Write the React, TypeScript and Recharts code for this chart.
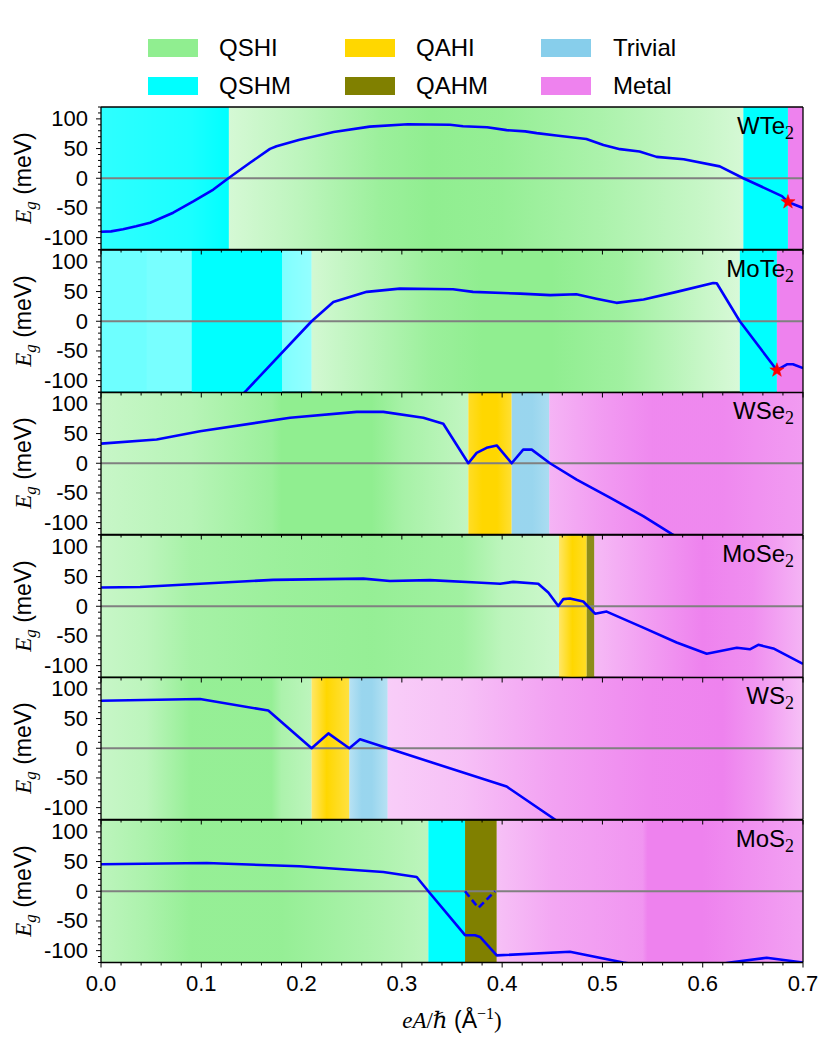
import React from 'react';
import { ComposedChart, Line, XAxis, YAxis, ReferenceArea, ReferenceLine, Scatter } from 'recharts';

// ---------- data ----------
const PHASE_COLORS: Record<string, string> = {
  QSHI: '#90EE90',
  QSHM: '#00FFFF',
  QAHI: '#FFD700',
  QAHM: '#808000',
  Trivial: '#87CEEB',
  Metal: '#EE82EE',
};
const LEGEND_COLUMNS = [
  ['QSHI', 'QSHM'],
  ['QAHI', 'QAHM'],
  ['Trivial', 'Metal'],
];

const X_MAJOR = [0, 0.1, 0.2, 0.3, 0.4, 0.5, 0.6, 0.7];
const X_TICKS = [
  0, 0.02, 0.04, 0.06, 0.08, 0.1, 0.12, 0.14, 0.16, 0.18, 0.2, 0.22, 0.24, 0.26, 0.28, 0.3,
  0.32, 0.34, 0.36, 0.38, 0.4, 0.42, 0.44, 0.46, 0.48, 0.5, 0.52, 0.54, 0.56, 0.58, 0.6,
  0.62, 0.64, 0.66, 0.68, 0.7,
];
const Y_MAJOR = [-100, -50, 0, 50, 100];
const Y_TICKS = [
  -120, -110, -100, -90, -80, -70, -60, -50, -40, -30, -20, -10, 0, 10, 20, 30, 40, 50, 60,
  70, 80, 90, 100, 110, 120,
];
const ZERO_LINE: [number, number][] = [[0, 0], [0.7, 0]];

// gap curves [eA/hbar, Eg (meV)]
const WTE2_GAP: [number, number][] = [
  [0, -90], [0.01, -89.5], [0.022, -86], [0.035, -81], [0.049, -75], [0.072, -58], [0.092, -39], [0.112, -19],
  [0.127, 0], [0.1486, 26], [0.1685, 49.5], [0.175, 54], [0.198, 65], [0.232, 78], [0.268, 87],
  [0.306, 91], [0.348, 90], [0.361, 87.5], [0.385, 86], [0.4045, 81], [0.423, 79],
  [0.4345, 76], [0.454, 72], [0.484, 66], [0.501, 56], [0.5175, 49], [0.537, 45],
  [0.554, 36], [0.581, 32], [0.617, 20], [0.6405, 0], [0.679, -30], [0.685, -40], [0.7, -50],
];
const MOTE2_GAP: [number, number][] = [
  [0.14, -125], [0.1453, -116], [0.21, 0], [0.2317, 32.5], [0.265, 49.5], [0.298, 55],
  [0.351, 54], [0.371, 49.5], [0.418, 46.5], [0.448, 44], [0.474, 45.5], [0.494, 38],
  [0.514, 31], [0.541, 36.5], [0.574, 49.5], [0.6105, 64.5], [0.614, 64], [0.637, 0],
  [0.674, -82.5], [0.684, -72.5], [0.69, -72.5], [0.7, -79],
];
const WSE2_GAP: [number, number][] = [
  [0, 33], [0.0555, 40], [0.0987, 54], [0.1885, 76.5], [0.255, 86.5], [0.2815, 86.5],
  [0.3214, 76.5], [0.3413, 66.5], [0.3663, 0], [0.3746, 17.5], [0.3845, 26], [0.3946, 30],
  [0.4095, 0], [0.421, 23], [0.4295, 23], [0.4477, 0], [0.4743, -27.5], [0.5075, -58],
  [0.5407, -89], [0.569, -119], [0.572, -122],
];
const MOSE2_GAP: [number, number][] = [
  [0, 31.5], [0.0389, 32.5], [0.122, 40], [0.1718, 44.5], [0.2615, 46.5], [0.288, 42.5],
  [0.328, 44], [0.3746, 40], [0.398, 38], [0.411, 41], [0.436, 38], [0.446, 23], [0.456, 0.5],
  [0.461, 12], [0.4676, 13], [0.4809, 8], [0.4926, -12.5], [0.5042, -9], [0.5407, -36],
  [0.574, -61], [0.604, -80], [0.634, -70], [0.647, -72.5], [0.6554, -65], [0.6704, -71],
  [0.7, -97],
];
const WS2_GAP: [number, number][] = [
  [0, 80], [0.0987, 83], [0.1668, 63.5], [0.21, 0], [0.2267, 25], [0.2476, 0], [0.2583, 15],
  [0.4045, -64.5], [0.4527, -120], [0.455, -123],
];
const MOS2_GAP: [number, number][] = [
  [0, 45.5], [0.1054, 47.5], [0.198, 42], [0.2815, 32.5], [0.3148, 24], [0.3264, 0],
  [0.363, -74], [0.373, -74], [0.378, -77], [0.3946, -108], [0.4676, -102], [0.5208, -120],
  [0.575, -135], [0.627, -120], [0.6638, -112], [0.7, -120],
];
const MOS2_DASHED: [number, number][] = [[0.363, 0], [0.3763, -28], [0.3929, 0]];

const WTE2_STAR: [number, number][] = [[0.685, -40]];
const MOTE2_STAR: [number, number][] = [[0.674, -82.5]];

// phase bands: [x1, x2, phase, shading stops [x, strength]]
type Band = [number, number, string, [number, number][]];
const WTE2_BANDS: Band[] = [
  [0, 0.1275, 'QSHM', [[0, 0.82], [0.09, 0.9], [0.1275, 1]]],
  [0.1275, 0.6405, 'QSHI', [[0.1275, 0.38], [0.2, 0.6], [0.28, 0.9], [0.33, 1], [0.4, 0.95], [0.5, 0.75], [0.6, 0.5], [0.6405, 0.38]]],
  [0.6405, 0.685, 'QSHM', [[0.6405, 1], [0.685, 1]]],
  [0.685, 0.7, 'Metal', [[0.685, 1], [0.7, 1]]],
];
const MOTE2_BANDS: Band[] = [
  [0, 0.21, 'QSHM', [[0, 0.57], [0.045, 0.57], [0.046, 0.53], [0.09, 0.53], [0.091, 1], [0.18, 1], [0.181, 0.5], [0.21, 0.42]]],
  [0.21, 0.637, 'QSHI', [[0.21, 0.4], [0.27, 0.65], [0.33, 0.9], [0.38, 1], [0.45, 1], [0.52, 0.85], [0.6, 0.5], [0.637, 0.35]]],
  [0.637, 0.674, 'QSHM', [[0.637, 1], [0.674, 1]]],
  [0.674, 0.7, 'Metal', [[0.674, 1], [0.7, 1]]],
];
const WSE2_BANDS: Band[] = [
  [0, 0.3663, 'QSHI', [[0, 0.5], [0.09, 0.65], [0.17, 0.9], [0.18, 1], [0.27, 1], [0.3, 0.8], [0.3663, 0.55]]],
  [0.3663, 0.4095, 'QAHI', [[0.3663, 0.85], [0.38, 1], [0.395, 1], [0.4095, 0.8]]],
  [0.4095, 0.447, 'Trivial', [[0.4095, 0.85], [0.43, 0.85], [0.447, 0.7]]],
  [0.447, 0.7, 'Metal', [[0.447, 0.6], [0.5, 0.8], [0.55, 0.95], [0.62, 0.95], [0.67, 0.85], [0.7, 0.8]]],
];
const MOSE2_BANDS: Band[] = [
  [0, 0.4567, 'QSHI', [[0, 0.5], [0.045, 0.6], [0.09, 0.8], [0.18, 0.9], [0.27, 0.95], [0.36, 0.85], [0.4, 0.6], [0.4567, 0.45]]],
  [0.4567, 0.4843, 'QAHI', [[0.4567, 0.6], [0.47, 1], [0.4843, 0.85]]],
  [0.4843, 0.4919, 'QAHM', [[0.4843, 0.9], [0.4919, 0.9]]],
  [0.4919, 0.7, 'Metal', [[0.4919, 0.55], [0.55, 0.8], [0.6, 1], [0.65, 0.9], [0.7, 0.6]]],
];
const WS2_BANDS: Band[] = [
  [0, 0.21, 'QSHI', [[0, 0.5], [0.045, 0.6], [0.09, 0.95], [0.17, 0.95], [0.18, 0.75], [0.21, 0.6]]],
  [0.21, 0.2476, 'QAHI', [[0.21, 0.6], [0.225, 1], [0.2476, 0.75]]],
  [0.2476, 0.2858, 'Trivial', [[0.2476, 0.6], [0.26, 0.85], [0.27, 0.85], [0.2858, 0.6]]],
  [0.2858, 0.7, 'Metal', [[0.2858, 0.4], [0.36, 0.5], [0.45, 0.75], [0.55, 0.95], [0.62, 1], [0.66, 0.8], [0.7, 0.5]]],
];
const MOS2_BANDS: Band[] = [
  [0, 0.3264, 'QSHI', [[0, 0.6], [0.045, 0.75], [0.09, 0.95], [0.18, 0.95], [0.27, 0.75], [0.3264, 0.6]]],
  [0.3264, 0.363, 'QSHM', [[0.3264, 1], [0.363, 1]]],
  [0.363, 0.3946, 'QAHM', [[0.363, 1], [0.3946, 1]]],
  [0.3946, 0.7, 'Metal', [[0.3946, 0.5], [0.45, 0.7], [0.54, 0.85], [0.545, 1], [0.6, 1], [0.7, 0.75]]],
];

const PANEL_NAMES = ['WTe', 'MoTe', 'WSe', 'MoSe', 'WS', 'MoS'];
const PANELS = [
  { name: PANEL_NAMES[0], gap: WTE2_GAP, bands: WTE2_BANDS, star: WTE2_STAR, dashed: null as null | [number, number][] },
  { name: PANEL_NAMES[1], gap: MOTE2_GAP, bands: MOTE2_BANDS, star: MOTE2_STAR, dashed: null },
  { name: PANEL_NAMES[2], gap: WSE2_GAP, bands: WSE2_BANDS, star: null as null | [number, number][], dashed: null },
  { name: PANEL_NAMES[3], gap: MOSE2_GAP, bands: MOSE2_BANDS, star: null, dashed: null },
  { name: PANEL_NAMES[4], gap: WS2_GAP, bands: WS2_BANDS, star: null, dashed: null },
  { name: PANEL_NAMES[5], gap: MOS2_GAP, bands: MOS2_BANDS, star: null, dashed: MOS2_DASHED },
];

// ---------- layout ----------
const W = 831;
const H = 1042;
const PLOT_LEFT = 101;
const PLOT_RIGHT = 803;
const PANEL_TOP = 107;
const PANEL_H = 142.5;
const MT = 10;
const MB = 10;
const XAXIS_H = 40;
const YAXIS_W = 60;
const SANS = '"Liberation Sans", Arial, Helvetica, sans-serif';
const SERIF = '"Liberation Serif", "DejaVu Serif", serif';

const toPts = (arr: [number, number][]) => arr.map(([x, y]) => ({ x, y }));

function XTick(props: any) {
  const { x, y, payload, showLabels } = props;
  const v = payload.value as number;
  const major = X_MAJOR.some((m) => Math.abs(m - v) < 1e-9);
  const len = major ? 5 : 3;
  return (
    <g>
      <line x1={x} x2={x} y1={y} y2={y + len} stroke="#000" strokeWidth={1} />
      {major && showLabels ? (
        <text x={x} y={y + 28} textAnchor="middle" fontSize={22} fontFamily={SANS} fill="#000">
          {v.toFixed(1)}
        </text>
      ) : null}
    </g>
  );
}

function YTick(props: any) {
  const { x, y, payload } = props;
  const v = payload.value as number;
  const major = Y_MAJOR.includes(v);
  const len = major ? 5 : 3;
  return (
    <g>
      <line x1={x - len} x2={x} y1={y} y2={y} stroke="#000" strokeWidth={1} />
      {major ? (
        <text x={x - 13} y={y + 7.5} textAnchor="end" fontSize={22} fontFamily={SANS} fill="#000">
          {String(v)}
        </text>
      ) : null}
    </g>
  );
}

function Star(props: any) {
  const { cx, cy } = props;
  if (cx == null || cy == null) return null;
  const R = 7.5;
  const r = 3;
  const pts: string[] = [];
  for (let i = 0; i < 10; i++) {
    const ang = -Math.PI / 2 + (i * Math.PI) / 5;
    const rad = i % 2 === 0 ? R : r;
    pts.push(`${cx + rad * Math.cos(ang)},${cy + rad * Math.sin(ang)}`);
  }
  return <polygon points={pts.join(' ')} fill="#ff0000" stroke="#ff0000" strokeWidth={0.5} />;
}

function Panel({ idx }: { idx: number }) {
  const p = PANELS[idx];
  const last = idx === PANELS.length - 1;
  const chartH = MT + PANEL_H + XAXIS_H + MB;
  return (
    <div
      style={{
        position: 'absolute',
        left: 0,
        top: PANEL_TOP + idx * PANEL_H - MT,
        width: W,
        height: chartH,
        zIndex: 20 - idx,
      }}
    >
      <ComposedChart
        width={W}
        height={chartH}
        margin={{ top: MT, bottom: MB, left: PLOT_LEFT - YAXIS_W, right: W - PLOT_RIGHT }}
      >
        <XAxis
          dataKey="x"
          type="number"
          domain={[0, 0.7]}
          allowDataOverflow
          ticks={X_TICKS}
          interval={0}
          height={XAXIS_H}
          tickSize={0}
          tickMargin={0}
          tickLine={false}
          axisLine={{ stroke: '#000', strokeWidth: 1.3 }}
          tick={(tp: any) => <XTick {...tp} showLabels={last} />}
        />
        <YAxis
          dataKey="y"
          type="number"
          domain={[-120, 120]}
          allowDataOverflow
          ticks={Y_TICKS}
          interval={0}
          width={YAXIS_W}
          tickSize={0}
          tickMargin={0}
          tickLine={false}
          axisLine={{ stroke: '#000', strokeWidth: 1.3 }}
          tick={(tp: any) => <YTick {...tp} />}
        />
        {p.bands.map((b, bi) => (
          <ReferenceArea
            key={`b${bi}`}
            x1={b[0]}
            x2={b[1]}
            y1={-120}
            y2={120}
            fill={`url(#bg-${idx}-${bi})`}
            fillOpacity={1}
            stroke="none"
            strokeWidth={0}
            ifOverflow="visible"
          />
        ))}
        <Line
          data={toPts(ZERO_LINE)}
          dataKey="y"
          type="linear"
          stroke="#808080"
          strokeWidth={2.2}
          dot={false}
          activeDot={false}
          isAnimationActive={false}
        />
        <Line
          data={toPts(p.gap)}
          dataKey="y"
          type="linear"
          stroke="#0000ff"
          strokeWidth={2.6}
          strokeLinejoin="round"
          dot={false}
          activeDot={false}
          isAnimationActive={false}
        />
        {p.dashed ? (
          <Line
            data={toPts(p.dashed)}
            dataKey="y"
            type="linear"
            stroke="#0000ff"
            strokeWidth={2.6}
            strokeDasharray="7 4"
            dot={false}
            activeDot={false}
            isAnimationActive={false}
          />
        ) : null}
        {p.star ? (
          <Scatter data={toPts(p.star)} dataKey="y" shape={(sp: any) => <Star {...sp} />} isAnimationActive={false} />
        ) : null}
        <ReferenceLine y={120} stroke="#000" strokeWidth={1.3} ifOverflow="visible" />
        <ReferenceLine x={0.7} stroke="#000" strokeWidth={1.3} ifOverflow="visible" />
      </ComposedChart>
    </div>
  );
}

function Gradients() {
  return (
    <svg width={0} height={0} style={{ position: 'absolute' }}>
      <defs>
        {PANELS.map((p, pi) =>
          p.bands.map((b, bi) => {
            const [x1, x2, phase, stops] = b;
            return (
              <linearGradient key={`${pi}-${bi}`} id={`bg-${pi}-${bi}`} x1="0" y1="0" x2="1" y2="0">
                {stops.map(([sx, a], si) => (
                  <stop
                    key={si}
                    offset={`${(((sx - x1) / (x2 - x1)) * 100).toFixed(3)}%`}
                    stopColor={PHASE_COLORS[phase]}
                    stopOpacity={a}
                  />
                ))}
              </linearGradient>
            );
          })
        )}
      </defs>
    </svg>
  );
}

function Legend() {
  const colX = [148, 345, 541];
  const textX = [219, 416, 613];
  const rowY = [48, 86];
  return (
    <>
      {LEGEND_COLUMNS.map((col, ci) =>
        col.map((name, ri) => (
          <React.Fragment key={name}>
            <div
              style={{
                position: 'absolute',
                left: colX[ci],
                top: rowY[ri] - 9,
                width: 50,
                height: 18,
                background: PHASE_COLORS[name],
              }}
            />
            <div
              style={{
                position: 'absolute',
                left: textX[ci],
                top: rowY[ri] - 14,
                fontFamily: SANS,
                fontSize: 24,
                lineHeight: '28px',
                color: '#000',
              }}
            >
              {name}
            </div>
          </React.Fragment>
        ))
      )}
    </>
  );
}

export default function App() {
  return (
    <div style={{ position: 'absolute', left: 0, top: 0, width: W, height: H, background: '#fff', overflow: 'hidden' }}>
      <Gradients />
      <Legend />
      {PANELS.map((_, i) => (
        <Panel key={i} idx={i} />
      ))}
      {PANELS.map((p, i) => (
        <div
          key={`lab${i}`}
          style={{
            position: 'absolute',
            right: W - 794,
            top: PANEL_TOP + i * PANEL_H + 5,
            fontFamily: SANS,
            fontSize: 24,
            lineHeight: '28px',
            color: '#000',
            zIndex: 50,
            whiteSpace: 'nowrap',
          }}
        >
          {p.name}
          <span style={{ fontFamily: SERIF, fontSize: 18, position: 'relative', top: 5 }}>2</span>
        </div>
      ))}
      {PANELS.map((_, i) => (
        <div
          key={`yl${i}`}
          style={{
            position: 'absolute',
            left: 23,
            top: PANEL_TOP + i * PANEL_H + PANEL_H / 2,
            transform: 'translate(-50%, -50%) rotate(-90deg)',
            fontFamily: SANS,
            fontSize: 23,
            whiteSpace: 'nowrap',
            color: '#000',
            zIndex: 50,
          }}
        >
          <span style={{ fontFamily: SERIF, fontStyle: 'italic' }}>E</span>
          <span style={{ fontFamily: SERIF, fontStyle: 'italic', fontSize: 17, position: 'relative', top: 5 }}>g</span>
          <span> (meV)</span>
        </div>
      ))}
      <div
        style={{
          position: 'absolute',
          left: (PLOT_LEFT + PLOT_RIGHT) / 2,
          top: 1020,
          transform: 'translate(-50%, -50%)',
          fontFamily: SANS,
          fontSize: 23,
          whiteSpace: 'nowrap',
          color: '#000',
          zIndex: 60,
        }}
      >
        <span style={{ fontFamily: SERIF, fontStyle: 'italic' }}>eA</span>
        <span style={{ fontFamily: SERIF }}>/</span>
        <span style={{ fontFamily: SERIF, fontStyle: 'italic' }}>ℏ</span>
        <span> (Å</span>
        <span style={{ fontFamily: SERIF, fontSize: 16, position: 'relative', top: -9 }}>−1</span>
        <span style={{ fontFamily: SERIF }}>)</span>
      </div>
    </div>
  );
}
